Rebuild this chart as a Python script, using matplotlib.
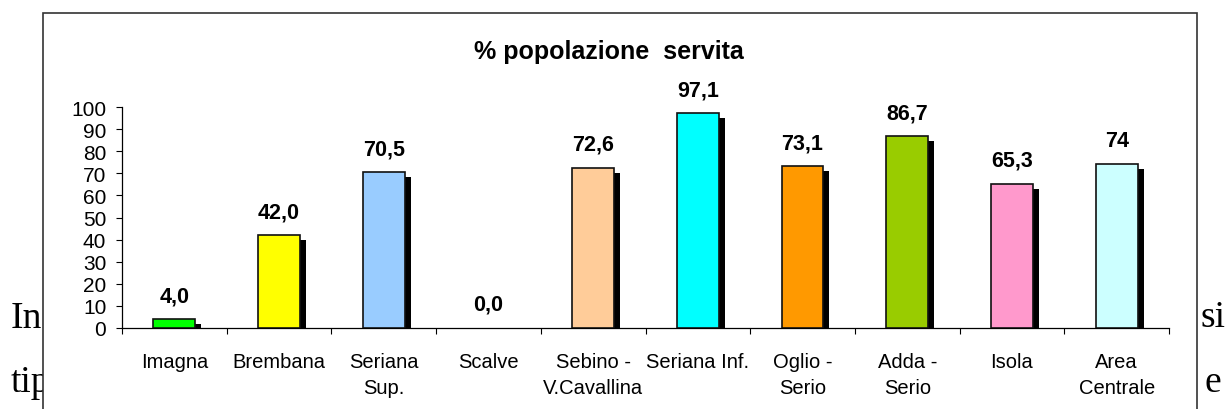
import matplotlib
matplotlib.use("Agg")
import matplotlib.pyplot as plt
from matplotlib.patches import Rectangle
from matplotlib.transforms import ScaledTranslation
import numpy as np

categories = ["Imagna", "Brembana", "Seriana\nSup.", "Scalve", "Sebino -\nV.Cavallina",
              "Seriana Inf.", "Oglio -\nSerio", "Adda -\nSerio", "Isola", "Area\nCentrale"]
values = [4.0, 42.0, 70.5, 0.0, 72.6, 97.1, 73.1, 86.7, 65.3, 74.0]
value_labels = ["4,0", "42,0", "70,5", "0,0", "72,6", "97,1", "73,1", "86,7", "65,3", "74"]
colors = ["#00FF00", "#FFFF00", "#99CCFF", "#FFFFFF", "#FFCC99",
          "#00FFFF", "#FF9900", "#99CC00", "#FF99CC", "#CCFFFF"]
yticks = [0, 10, 20, 30, 40, 50, 60, 70, 80, 90, 100]
title = "% popolazione  servita"

W, H = 1229, 410
fig = plt.figure(figsize=(W / 100, H / 100), dpi=100)
fig.patch.set_facecolor("white")

# background body text (partly covered by the chart frame)
serif = ["Liberation Serif", "DejaVu Serif"]
for s, x, y in [("In", 11, 328), ("tip", 11, 392), ("si", 1200, 327), ("e", 1205, 392)]:
    fig.text(x / W, 1 - y / H, s, fontsize=27, family=serif, ha="left", va="baseline",
             zorder=-3)

# chart frame
frame = Rectangle((43 / W, -0.1), (1197 - 43) / W, 1.1 - 14 / H, transform=fig.transFigure,
                  facecolor="white", edgecolor="#333333", linewidth=1.2, zorder=-2)
fig.patches.append(frame)

ax = fig.add_axes([122 / W, 81 / H, (1169 - 122) / W, (329 - 108) / H])
ax.set_facecolor("none")
ax.set_zorder(0)

sans = ["Liberation Sans", "DejaVu Sans"]
x = np.arange(len(categories))
bw = 0.40

shadow_tr = ax.transData + ScaledTranslation(6 / 100, -5 / 100, fig.dpi_scale_trans)
sh = ax.bar(x, values, width=bw, color="black", edgecolor="black", linewidth=0, zorder=2)
for p, v in zip(sh, values):
    p.set_transform(shadow_tr)
    if v == 0:
        p.set_visible(False)
bars = ax.bar(x, values, width=bw, color=colors, edgecolor="#111111", linewidth=1.2, zorder=3)
for b, v in zip(bars, values):
    if v == 0:
        b.set_visible(False)

for xi, v, lab in zip(x, values, value_labels):
    ax.annotate(lab, (xi, v), xytext=(0, 13), textcoords="offset points", ha="center",
                va="baseline", fontsize=15.5, fontweight="bold", family=sans, zorder=4)

ax.set_xlim(-0.5, len(categories) - 0.5)
ax.set_ylim(0, 100)
ax.set_yticks(yticks)
ax.set_yticklabels([str(t) for t in yticks], fontsize=15, family=sans)
ax.tick_params(axis="y", direction="out", length=4.3, width=0.8, pad=7)

ax.set_xticks(np.arange(len(categories) + 1) - 0.5)
ax.set_xticklabels([])
ax.tick_params(axis="x", which="major", direction="out", length=4.3, width=0.8)
ax.set_xticks(x, minor=True)
ax.set_xticklabels(categories, minor=True, fontsize=14.5, family=sans, linespacing=1.5)
ax.tick_params(axis="x", which="minor", length=0, pad=17)

for s in ["top", "right"]:
    ax.spines[s].set_visible(False)
for s in ["left", "bottom"]:
    ax.spines[s].set_linewidth(0.9)
    ax.spines[s].set_color("black")

fig.text(609 / W, 1 - 52 / H, title, ha="center", va="center", fontsize=18,
         fontweight="bold", family=sans)

fig.savefig("out.png", dpi=100)
